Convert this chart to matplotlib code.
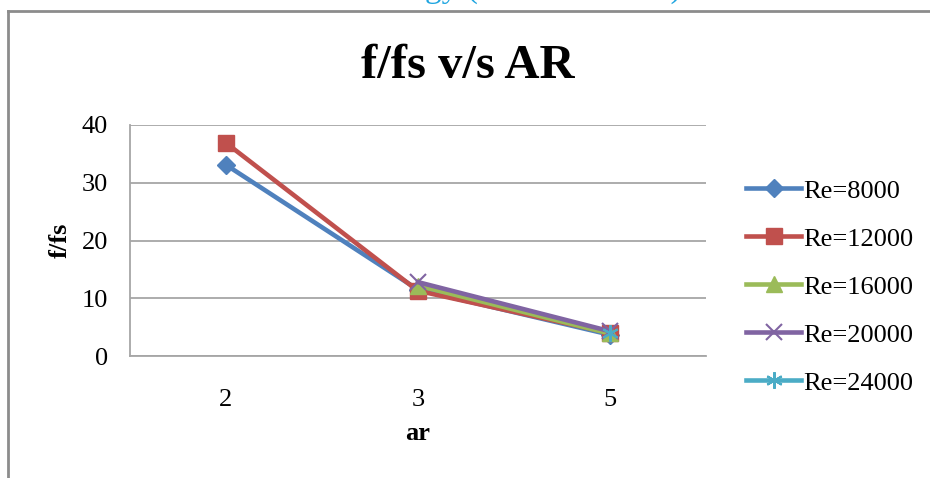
import numpy as np
import matplotlib
matplotlib.use('Agg')
import matplotlib.pyplot as plt
from matplotlib.lines import Line2D

plt.rcParams['font.family'] = ['Liberation Serif', 'DejaVu Serif']

ar_labels = ['2', '3', '5']
series_names = ['Re=8000', 'Re=12000', 'Re=16000', 'Re=20000', 'Re=24000']
re8000 = [33.1, 11.5, 3.7]
re12000 = [36.9, 11.3, 4.0]
re16000 = [np.nan, 12.2, 3.9]
re20000 = [np.nan, 12.8, 4.3]
re24000 = [np.nan, np.nan, 4.0]

values = [re8000, re12000, re16000, re20000, re24000]
colors = ['#4F81BD', '#C0504D', '#9BBB59', '#8064A2', '#4BACC6']
markers = ['D', 's', '^', 'x', (6, 2, 0)]
msizes = [9, 11.5, 11, 11, 12]

fig = plt.figure(figsize=(9.3, 4.78), dpi=100)
ax = fig.add_axes([0.1398, 0.2552, 0.619, 0.4833])

x = np.arange(len(ar_labels))
for vals, name, c, m, ms in zip(values, series_names, colors, markers, msizes):
    ax.plot(x, vals, color=c, lw=3.3, marker=m, ms=ms, mec=c, mfc=c,
            mew=1.5 if m == 'x' or isinstance(m, tuple) else 1, label=name)

ax.set_xlim(-0.5, 2.5)
ax.set_ylim(0, 40)
ax.set_yticks([0, 10, 20, 30, 40])
ax.set_xticks(x)
ax.set_xticklabels(ar_labels)
ax.yaxis.grid(True, color='#a6a6a6', lw=1.3)
ax.set_axisbelow(True)
for s in ['top', 'right']:
    ax.spines[s].set_visible(False)
for s in ['left', 'bottom']:
    ax.spines[s].set_color('#a6a6a6')
    ax.spines[s].set_linewidth(1.3)
ax.tick_params(axis='x', length=0, pad=24, labelsize=19)
ax.tick_params(axis='y', length=0, pad=16, labelsize=19)
ax.set_xlabel('ar', fontsize=19, fontweight='bold', labelpad=8)
ax.set_ylabel('f/fs', fontsize=19, fontweight='bold', labelpad=7)

fig.text(0.503, 0.862, 'f/fs v/s AR', ha='center', va='center',
         fontsize=35, fontweight='bold')

# cut-off heading above the chart frame
fig.text(0.595, 1.024, 'gy (                       )', ha='center', va='center',
         fontsize=24, color='#1fa5e0')

# chart frame (top and left edges visible)
fig.add_artist(Line2D([8 / 930, 1], [1 - 11 / 478, 1 - 11 / 478],
                      transform=fig.transFigure, color='#8c8c8c', lw=2))
fig.add_artist(Line2D([8 / 930, 8 / 930], [0, 1 - 11 / 478],
                      transform=fig.transFigure, color='#8c8c8c', lw=2))

fig.legend(loc='center left', bbox_to_anchor=(0.788, 0.40), frameon=False,
           fontsize=19, handlelength=2.1, handletextpad=0.05, labelspacing=0.93,
           borderpad=0)

fig.savefig('out.png', dpi=100)
